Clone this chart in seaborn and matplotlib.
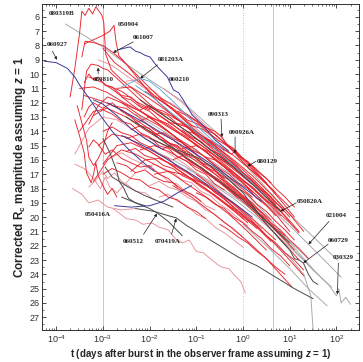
import matplotlib
matplotlib.use("Agg")
import matplotlib.pyplot as plt
from matplotlib.ticker import FixedLocator, LogLocator, MultipleLocator, NullFormatter
import numpy as np
import pandas as pd
import seaborn as sns

sns.set_theme(style="ticks")
plt.rcParams["font.family"] = ["Liberation Sans", "DejaVu Sans"]
plt.rcParams["mathtext.fontset"] = "custom"
plt.rcParams["mathtext.rm"] = "Liberation Sans"
plt.rcParams["mathtext.bf"] = "Liberation Sans:bold"
plt.rcParams["mathtext.it"] = "Liberation Sans:italic:bold"

# ---- afterglow light curves: (log10 t [days], corrected R_c mag) ----
# red: bulk of the sample
lc_080319B = [(-3.7, 11.6), (-3.6, 9.6), (-3.5, 7.2), (-3.45, 5.6), (-3.38, 5.9), (-3.3, 5.4),
              (-3.22, 5.8), (-3.15, 5.3), (-3.08, 5.6), (-3.02, 5.9), (-2.98, 6.4), (-2.94, 8.6),
              (-2.82, 9.7), (-2.6, 10.4), (-2.3, 11.2), (-2.0, 12.1), (-1.6, 13.1), (-1.2, 14.0),
              (-0.8, 15.0), (-0.4, 16.0), (0.0, 17.1), (0.4, 18.3), (0.8, 19.5)]
lc_050904 = [(-3.4, 7.9), (-3.2, 7.6), (-3.0, 7.3), (-2.85, 7.0), (-2.76, 6.6), (-2.72, 7.7),
             (-2.66, 8.7), (-2.5, 9.3), (-2.2, 10.5), (-1.9, 11.7), (-1.5, 12.9), (-1.1, 13.9),
             (-0.7, 15.1), (-0.3, 16.2)]
lc_061007 = [(-3.45, 8.8), (-3.38, 7.7), (-3.2, 7.8), (-3.0, 8.0), (-2.78, 8.5), (-2.5, 9.3),
             (-2.2, 10.3), (-1.8, 11.6), (-1.4, 12.8), (-1.0, 14.0), (-0.5, 15.4), (0.0, 16.9)]
lc_080810 = [(-3.45, 12.5), (-3.35, 9.8), (-3.25, 9.3), (-3.1, 9.4), (-3.0, 9.6), (-2.9, 9.7),
             (-2.6, 10.6), (-2.2, 11.8), (-1.8, 12.9), (-1.3, 14.0), (-0.8, 15.2), (-0.3, 16.4),
             (0.2, 17.7)]
lc_090313 = [(-2.1, 11.2), (-1.8, 11.8), (-1.5, 12.4), (-1.2, 13.2), (-0.9, 13.6), (-0.6, 14.0),
             (-0.45, 14.4), (-0.35, 14.9), (-0.2, 15.3), (0.1, 16.2), (0.5, 17.6)]
lc_090926A = [(-1.5, 13.0), (-1.2, 13.6), (-0.9, 14.3), (-0.6, 14.9), (-0.4, 15.3), (-0.25, 15.6),
              (-0.17, 15.4), (-0.1, 15.8), (0.1, 16.5), (0.4, 17.3), (0.7, 18.3)]
lc_050820A = [(-2.6, 12.0), (-2.2, 12.6), (-1.8, 13.3), (-1.4, 14.1), (-1.0, 14.9), (-0.6, 15.9),
              (-0.2, 16.9), (0.2, 17.9), (0.5, 18.8), (0.8, 19.6), (1.0, 20.3)]
lc_r01 = [(-3.4, 11.5), (-3.0, 11.9), (-2.6, 12.5), (-2.2, 13.4), (-1.8, 14.3), (-1.4, 15.2),
          (-1.0, 16.1), (-0.6, 17.0), (-0.2, 18.0), (0.2, 19.1), (0.6, 20.2)]
lc_r02 = [(-3.3, 13.5), (-3.1, 12.2), (-2.9, 11.6), (-2.6, 12.0), (-2.2, 12.9), (-1.8, 13.6),
          (-1.4, 14.5), (-1.0, 15.3), (-0.6, 16.4), (-0.2, 17.5), (0.2, 18.6)]
lc_r03 = [(-2.9, 10.8), (-2.6, 11.2), (-2.3, 11.9), (-2.0, 12.4), (-1.6, 13.3), (-1.2, 14.3),
          (-0.8, 15.2), (-0.4, 16.3), (0.0, 17.4), (0.4, 18.6), (0.8, 19.9)]
lc_r04 = [(-2.8, 12.2), (-2.5, 12.4), (-2.2, 13.1), (-1.9, 13.9), (-1.5, 14.6), (-1.1, 15.6),
          (-0.7, 16.7), (-0.3, 17.8), (0.1, 19.0), (0.5, 20.3), (0.9, 21.6)]
lc_r05 = [(-3.6, 15.6), (-3.3, 13.8), (-3.0, 13.0), (-2.7, 13.2), (-2.4, 13.8), (-2.0, 14.7),
          (-1.6, 15.5), (-1.2, 16.4), (-0.8, 17.4), (-0.4, 18.5), (0.0, 19.6), (0.4, 20.8)]
lc_r06 = [(-2.5, 14.5), (-2.2, 14.2), (-1.9, 14.6), (-1.5, 15.3), (-1.1, 16.1), (-0.7, 17.0),
          (-0.3, 18.1), (0.1, 19.2), (0.5, 20.5), (0.9, 21.9), (1.2, 23.0)]
lc_r07 = [(-2.0, 12.3), (-1.7, 12.6), (-1.4, 13.2), (-1.0, 14.0), (-0.6, 15.0), (-0.2, 16.1),
          (0.2, 17.3), (0.6, 18.6), (1.0, 20.0)]
lc_r08 = [(-1.8, 11.6), (-1.5, 12.2), (-1.2, 12.8), (-0.8, 13.7), (-0.4, 14.8), (0.0, 16.0),
          (0.4, 17.3), (0.8, 18.8), (1.1, 20.0)]
lc_r09 = [(-3.2, 17.5), (-2.9, 16.0), (-2.6, 15.3), (-2.3, 15.6), (-1.9, 16.3), (-1.5, 17.0),
          (-1.1, 17.9), (-0.7, 18.8), (-0.3, 19.8), (0.1, 21.0), (0.5, 22.3)]
lc_r10 = [(-2.4, 16.8), (-2.1, 16.0), (-1.8, 15.9), (-1.4, 16.5), (-1.0, 17.3), (-0.6, 18.2),
          (-0.2, 19.3), (0.2, 20.4), (0.6, 21.7)]
lc_r11 = [(-1.6, 13.4), (-1.3, 13.5), (-1.0, 14.2), (-0.6, 15.0), (-0.2, 16.0), (0.2, 17.1),
          (0.6, 18.4), (1.0, 19.8), (1.3, 21.0)]
lc_r12 = [(-3.5, 14.0), (-3.2, 12.6), (-2.9, 12.4), (-2.5, 13.0), (-2.1, 13.9), (-1.7, 14.7),
          (-1.3, 15.7), (-0.9, 16.6), (-0.5, 17.6), (-0.1, 18.7)]
lc_r13 = [(-2.7, 11.0), (-2.4, 10.9), (-2.1, 11.5), (-1.7, 12.4), (-1.3, 13.4), (-0.9, 14.4),
          (-0.5, 15.5), (-0.1, 16.6), (0.3, 17.8), (0.7, 19.1)]
lc_r14 = [(-2.2, 15.3), (-1.9, 15.0), (-1.6, 15.4), (-1.2, 16.1), (-0.8, 16.9), (-0.4, 17.8),
          (0.0, 18.8), (0.4, 19.9), (0.8, 21.2), (1.1, 22.3)]
lc_r15 = [(-1.3, 15.2), (-1.0, 15.0), (-0.7, 15.5), (-0.3, 16.3), (0.1, 17.3), (0.5, 18.5),
          (0.9, 19.9), (1.2, 21.0)]
lc_r16 = [(-3.1, 15.0), (-2.8, 14.2), (-2.5, 14.4), (-2.1, 15.2), (-1.7, 16.0), (-1.3, 16.9),
          (-0.9, 17.8), (-0.5, 18.7), (-0.1, 19.7), (0.3, 20.8)]
lc_r17 = [(-2.3, 13.4), (-2.0, 13.0), (-1.7, 13.4), (-1.3, 14.3), (-0.9, 15.2), (-0.5, 16.2),
          (-0.1, 17.3), (0.3, 18.5), (0.7, 19.8), (1.0, 21.0)]
lc_r18 = [(-1.9, 17.0), (-1.6, 16.8), (-1.3, 17.0), (-0.9, 17.6), (-0.5, 18.4), (-0.1, 19.3),
          (0.3, 20.4), (0.7, 21.6)]
lc_r19 = [(-1.2, 14.0), (-0.9, 14.3), (-0.6, 14.8), (-0.2, 15.7), (0.2, 16.8), (0.6, 18.0),
          (1.0, 19.3)]
lc_r20 = [(-3.0, 16.3), (-2.7, 15.0), (-2.4, 14.8), (-2.0, 15.4), (-1.6, 16.2), (-1.2, 17.1),
          (-0.8, 18.0), (-0.4, 19.0), (0.0, 20.1)]
lc_r21 = [(-3.55, 12.2), (-3.45, 13.4), (-3.35, 14.6), (-3.3, 15.8), (-3.2, 16.4), (-3.1, 15.9),
          (-3.0, 15.2), (-2.9, 14.0), (-2.8, 13.4)]
lc_r22 = [(-3.6, 16.3), (-3.4, 16.6), (-3.2, 17.3), (-3.05, 18.0), (-2.95, 17.2), (-2.85, 17.9),
          (-2.7, 18.3), (-2.5, 17.6), (-2.3, 16.9)]
lc_r23 = [(-3.65, 18.0), (-3.45, 18.4), (-3.3, 19.0), (-3.1, 18.8), (-2.9, 19.3), (-2.6, 19.5),
          (-2.3, 19.4)]
lc_r24 = [(-2.78, 19.4), (-2.5, 20.1), (-2.3, 20.2), (-2.14, 20.5), (-1.95, 20.4), (-1.8, 20.7),
          (-1.6, 20.9), (-1.45, 21.5), (-1.3, 21.8), (-1.15, 21.6), (-1.0, 22.4), (-0.85, 22.5),
          (-0.7, 22.9), (-0.55, 23.3), (-0.45, 23.5), (-0.3, 23.6), (-0.2, 24.0), (-0.05, 24.5),
          (0.05, 25.3)]
lc_r25 = [(-1.5, 17.8), (-1.1, 18.6), (-0.7, 19.6), (-0.3, 20.6), (0.1, 21.7), (0.5, 22.9),
          (0.8, 24.0), (1.05, 24.9)]
lc_r26 = [(-1.0, 17.0), (-0.6, 18.0), (-0.2, 19.1), (0.2, 20.3), (0.6, 21.6), (1.0, 23.0),
          (1.3, 24.1)]
lc_r27 = [(-3.3, 10.2), (-3.0, 10.6), (-2.7, 11.3), (-2.4, 12.1), (-2.0, 13.0), (-1.6, 14.0),
          (-1.2, 15.1), (-0.8, 16.2), (-0.4, 17.3)]
lc_r28 = [(-3.5, 11.0), (-3.2, 10.9), (-2.9, 11.3), (-2.6, 11.9), (-2.2, 12.6), (-1.8, 13.5),
          (-1.4, 14.5), (-1.0, 15.6)]
lc_r29 = [(-3.1, 9.0), (-2.8, 9.4), (-2.5, 10.1), (-2.1, 11.0), (-1.7, 12.0), (-1.3, 13.0),
          (-0.9, 14.1), (-0.5, 15.3), (-0.1, 16.5)]
lc_r30 = [(-3.0, 8.2), (-2.9, 8.6), (-2.75, 9.2), (-2.5, 9.8), (-2.2, 10.6), (-1.9, 11.5),
          (-1.5, 12.5), (-1.1, 13.6)]
lc_r31 = [(-3.2, 12.9), (-3.0, 12.5), (-2.8, 12.8), (-2.6, 13.3), (-2.4, 13.5), (-2.2, 14.1),
          (-2.0, 14.4), (-1.8, 15.0), (-1.6, 15.2), (-1.4, 15.8), (-1.2, 16.1), (-1.0, 16.7),
          (-0.8, 17.0), (-0.6, 17.7), (-0.4, 18.1)]
lc_r32 = [(-2.6, 11.6), (-2.4, 11.8), (-2.2, 12.3), (-2.0, 12.6), (-1.8, 13.2), (-1.6, 13.5),
          (-1.4, 14.0), (-1.2, 14.4), (-1.0, 15.0), (-0.8, 15.4), (-0.6, 16.0), (-0.4, 16.5),
          (-0.2, 17.1), (0.0, 17.6), (0.2, 18.3)]
lc_r33 = [(-2.4, 13.9), (-2.2, 13.6), (-2.0, 14.0), (-1.8, 14.3), (-1.6, 14.8), (-1.4, 15.0),
          (-1.2, 15.6), (-1.0, 15.9), (-0.8, 16.5), (-0.6, 16.8), (-0.4, 17.4), (-0.2, 17.9),
          (0.0, 18.5), (0.2, 19.0), (0.4, 19.7)]
lc_r34 = [(-1.9, 14.2), (-1.7, 14.1), (-1.5, 14.5), (-1.3, 14.8), (-1.1, 15.3), (-0.9, 15.6),
          (-0.7, 16.1), (-0.5, 16.6), (-0.3, 17.0), (-0.1, 17.6), (0.1, 18.0), (0.3, 18.7),
          (0.5, 19.2), (0.7, 19.9)]
lc_r35 = [(-2.2, 12.5), (-2.0, 12.2), (-1.8, 12.6), (-1.6, 12.9), (-1.4, 13.5), (-1.2, 13.7),
          (-1.0, 14.3), (-0.8, 14.8), (-0.6, 15.2), (-0.4, 15.8), (-0.2, 16.2), (0.0, 16.9),
          (0.2, 17.4), (0.4, 18.1), (0.6, 18.6)]
lc_r36 = [(-1.5, 16.0), (-1.3, 15.7), (-1.1, 16.2), (-0.9, 16.5), (-0.7, 17.0), (-0.5, 17.4),
          (-0.3, 17.9), (-0.1, 18.5), (0.1, 18.9), (0.3, 19.6), (0.5, 20.1), (0.7, 20.8),
          (0.9, 21.3)]
lc_r37 = [(-2.8, 15.8), (-2.6, 15.5), (-2.4, 15.9), (-2.2, 16.2), (-2.0, 16.6), (-1.8, 16.9),
          (-1.6, 17.5), (-1.4, 17.7), (-1.2, 18.3), (-1.0, 18.6), (-0.8, 19.2), (-0.6, 19.5)]
lc_r38 = [(-1.1, 13.6), (-0.9, 13.8), (-0.7, 14.2), (-0.5, 14.7), (-0.3, 15.1), (-0.1, 15.7),
          (0.1, 16.1), (0.3, 16.8), (0.5, 17.3), (0.7, 18.0), (0.9, 18.6), (1.1, 19.3)]
lc_r39 = [(-0.8, 15.8), (-0.6, 16.0), (-0.4, 16.5), (-0.2, 16.9), (0.0, 17.5), (0.2, 17.9),
          (0.4, 18.6), (0.6, 19.1), (0.8, 19.8), (1.0, 20.4), (1.2, 21.1)]
lc_r40 = [(-3.4, 13.0), (-3.3, 12.3), (-3.2, 12.0), (-3.0, 12.4), (-2.8, 12.0), (-2.6, 12.6),
          (-2.4, 13.0), (-2.2, 13.6), (-2.0, 13.8), (-1.8, 14.5), (-1.6, 14.8), (-1.4, 15.4),
          (-1.2, 15.7)]
lc_r41 = [(-1.7, 15.2), (-1.5, 14.9), (-1.3, 15.3), (-1.1, 15.6), (-0.9, 16.2), (-0.7, 16.4),
          (-0.5, 17.0), (-0.3, 17.4), (-0.1, 18.0), (0.1, 18.4), (0.3, 19.1), (0.5, 19.6),
          (0.7, 20.3), (0.9, 20.9), (1.1, 21.6)]
lc_r42 = [(-2.1, 16.6), (-1.9, 16.3), (-1.7, 16.6), (-1.5, 16.9), (-1.3, 17.4), (-1.1, 17.6),
          (-0.9, 18.2), (-0.7, 18.5), (-0.5, 19.1), (-0.3, 19.5), (-0.1, 20.1), (0.1, 20.6)]
lc_r43 = [(-1.4, 12.6), (-1.2, 12.9), (-1.0, 13.3), (-0.8, 13.9), (-0.6, 14.2), (-0.4, 14.8),
          (-0.2, 15.2), (0.0, 15.9), (0.2, 16.4), (0.4, 17.0), (0.6, 17.6)]
lc_r44 = [(-0.6, 17.4), (-0.4, 17.7), (-0.2, 18.2), (0.0, 18.6), (0.2, 19.2), (0.4, 19.7),
          (0.6, 20.4), (0.8, 20.9), (1.0, 21.6), (1.2, 22.2), (1.4, 22.9)]
lc_r45 = [(-2.5, 10.5), (-2.3, 10.4), (-2.1, 10.9), (-1.9, 11.2), (-1.7, 11.8), (-1.5, 12.1),
          (-1.3, 12.7), (-1.1, 13.2), (-0.9, 13.7), (-0.7, 14.3), (-0.5, 14.7)]
lc_r46 = [(-3.0, 14.0), (-2.8, 13.7), (-2.6, 14.1), (-2.4, 14.3), (-2.2, 14.8), (-2.0, 15.1),
          (-1.8, 15.6), (-1.6, 15.9), (-1.4, 16.5), (-1.2, 16.8), (-1.0, 17.4), (-0.8, 17.7),
          (-0.6, 18.3), (-0.4, 18.7), (-0.2, 19.3)]
lc_r47 = [(-0.3, 19.2), (-0.1, 19.6), (0.1, 20.2), (0.3, 20.6), (0.5, 21.3), (0.7, 21.8),
          (0.9, 22.5), (1.1, 23.0), (1.3, 23.7)]
lc_r48 = [(-1.0, 18.3), (-0.8, 18.6), (-0.6, 19.1), (-0.4, 19.4), (-0.2, 20.0), (0.0, 20.4),
          (0.2, 21.0), (0.4, 21.5), (0.6, 22.2), (0.8, 22.7), (1.0, 23.4)]
lc_r49 = [(-2.0, 17.8), (-1.8, 17.5), (-1.6, 17.9), (-1.4, 18.1), (-1.2, 18.6), (-1.0, 18.9),
          (-0.8, 19.5), (-0.6, 19.8), (-0.4, 20.4), (-0.2, 20.8), (0.0, 21.4)]
lc_r50 = [(-1.3, 13.9), (-1.1, 14.4), (-0.9, 14.7), (-0.7, 15.3), (-0.5, 15.6), (-0.3, 16.2),
          (-0.1, 16.7), (0.1, 17.2), (0.3, 17.8), (0.5, 18.3), (0.7, 19.0), (0.9, 19.5)]
lc_r51 = [(-3.0, 17.0), (-2.8, 16.6), (-2.6, 16.9), (-2.4, 17.3), (-2.2, 17.4), (-2.0, 17.9),
          (-1.8, 18.1), (-1.6, 18.6), (-1.4, 18.8), (-1.2, 19.3), (-1.0, 19.6), (-0.8, 20.1)]
lc_r52 = [(-2.7, 16.2), (-2.5, 16.4), (-2.3, 16.9), (-2.1, 16.7), (-1.9, 17.2), (-1.7, 17.5),
          (-1.5, 17.6), (-1.3, 18.1), (-1.1, 18.4), (-0.9, 18.9)]
lc_r53 = [(-3.3, 15.1), (-3.2, 14.6), (-3.1, 14.9), (-2.95, 15.6), (-2.8, 15.3), (-2.6, 15.9),
          (-2.4, 16.2), (-2.2, 16.5), (-2.0, 16.4), (-1.8, 17.0), (-1.6, 17.3), (-1.4, 17.9)]
lc_r54 = [(-3.6, 13.2), (-3.5, 14.3), (-3.4, 15.5), (-3.35, 16.9), (-3.25, 17.6), (-3.2, 17.0),
          (-3.15, 16.2), (-3.1, 17.1), (-3.0, 17.8), (-2.9, 18.4), (-2.8, 18.0), (-2.7, 18.6)]
lc_r55 = [(-3.3, 17.9), (-3.15, 17.4), (-3.0, 16.8), (-2.9, 17.3), (-2.75, 16.9), (-2.6, 17.5),
          (-2.45, 17.8), (-2.3, 18.2), (-2.1, 18.3), (-1.9, 18.8)]
lc_r57 = [(-2.5, 15.4), (-2.3, 15.2), (-2.1, 15.7), (-1.9, 15.9), (-1.7, 16.4), (-1.5, 16.6),
          (-1.3, 17.1), (-1.1, 17.4), (-0.9, 17.9), (-0.7, 18.3), (-0.5, 18.8), (-0.3, 19.3),
          (-0.1, 19.8), (0.1, 20.4)]
lc_r58 = [(-1.8, 18.6), (-1.6, 18.4), (-1.4, 18.9), (-1.2, 19.2), (-1.0, 19.8), (-0.8, 20.1),
          (-0.6, 20.7), (-0.4, 21.1), (-0.2, 21.6), (0.0, 22.1)]
lc_r59 = [(-0.5, 20.5), (-0.3, 20.9), (-0.1, 21.4), (0.1, 21.8), (0.3, 22.4), (0.5, 22.9),
          (0.7, 23.5), (0.9, 24.0)]
lc_r60 = [(-3.4, 10.6), (-3.3, 10.0), (-3.2, 10.4), (-3.1, 10.2), (-2.95, 10.8), (-2.8, 10.9),
          (-2.6, 11.5), (-2.4, 11.6), (-2.2, 12.2), (-2.0, 12.5)]

# blue and dark grey-blue curves
lc_081203A = [(-2.67, 8.3), (-2.55, 8.2), (-2.42, 8.1), (-2.3, 8.4), (-2.2, 8.5), (-2.09, 8.7),
              (-1.99, 8.8), (-1.88, 9.3), (-1.77, 9.7), (-1.62, 10.2), (-1.49, 11.1),
              (-1.38, 11.3), (-1.28, 11.8), (-1.09, 12.85), (-0.85, 13.6), (-0.6, 14.6),
              (-0.3, 15.4)]
lc_060210 = [(-2.6, 10.9), (-2.4, 10.6), (-2.2, 10.3), (-2.0, 10.5), (-1.8, 11.0), (-1.5, 11.9),
             (-1.2, 12.9), (-0.8, 14.2), (-0.4, 15.4)]
lc_060927 = [(-4.25, 9.1), (-4.0, 9.2), (-3.76, 9.6), (-3.6, 10.2), (-3.49, 10.8), (-3.27, 11.8),
             (-3.05, 12.9), (-2.8, 14.0), (-2.5, 15.1), (-2.2, 16.0), (-1.9, 16.8)]
lc_b01 = [(-2.75, 19.2), (-2.4, 19.3), (-2.0, 19.2), (-1.7, 18.9), (-1.4, 18.3), (-1.1, 17.8)]
lc_b02 = [(-2.9, 12.0), (-2.5, 12.7), (-2.0, 13.6), (-1.5, 14.6), (-1.0, 15.6), (-0.5, 16.7),
          (0.0, 17.9), (0.4, 18.9)]
lc_b03 = [(-2.6, 14.3), (-2.2, 14.9), (-1.8, 15.6), (-1.4, 16.4), (-1.0, 17.2), (-0.6, 18.1),
          (-0.2, 19.0), (0.2, 20.0)]
lc_b04 = [(-3.2, 11.8), (-3.0, 12.1), (-2.7, 12.9), (-2.4, 13.8), (-2.1, 14.5), (-1.7, 15.3)]

# dark grey curves
lc_070419A = [(-2.3, 19.4), (-1.9, 19.6), (-1.6, 19.9), (-1.43, 20.05), (-1.2, 20.6), (-0.9, 21.2),
              (-0.5, 22.0), (-0.1, 22.8), (0.3, 23.4), (0.7, 24.2), (1.1, 25.0), (1.5, 25.7)]
lc_060512 = [(-2.6, 18.6), (-2.3, 19.0), (-2.0, 19.4), (-1.84, 19.7), (-1.6, 20.3), (-1.45, 20.8),
             (-1.3, 21.3)]
lc_050416A = [(-3.0, 14.5), (-2.85, 15.5), (-2.7, 16.8), (-2.65, 17.5), (-2.55, 18.0),
              (-2.45, 18.7), (-2.3, 19.0), (-2.1, 19.2)]
lc_060729 = [(-2.0, 14.5), (-1.5, 15.2), (-1.0, 15.8), (-0.5, 16.8), (0.0, 18.3), (0.48, 20.4),
             (0.8, 21.6), (1.0, 22.3), (1.1, 22.9), (1.2, 23.0), (1.29, 23.2), (1.4, 24.0),
             (1.5, 24.5), (1.6, 24.7)]
lc_d01 = [(-2.5, 13.0), (-2.0, 14.0), (-1.5, 15.2), (-1.0, 16.3), (-0.5, 17.5), (0.0, 18.8),
          (0.5, 20.3), (1.0, 21.8)]
lc_d02 = [(-2.2, 11.8), (-1.7, 12.9), (-1.2, 14.0), (-0.7, 15.3), (-0.2, 16.5), (0.3, 18.0),
          (0.8, 19.6)]
lc_d03 = [(-2.95, 16.5), (-2.8, 17.2), (-2.6, 17.6), (-2.4, 18.0), (-2.1, 18.5), (-1.8, 18.9),
          (-1.5, 19.3)]

# light grey curves (late-time coverage)
lc_080129 = [(-3.8, 6.5), (-3.4, 7.3), (-3.0, 8.1), (-2.5, 9.3), (-2.0, 10.4), (-1.34, 11.8),
             (-0.5, 14.3), (0.09, 16.5), (1.0, 19.8), (2.02, 23.0)]
lc_021004 = [(-2.3, 12.8), (-1.8, 13.8), (-1.3, 14.8), (-0.8, 15.8), (-0.3, 16.9), (0.2, 18.2),
             (0.6, 19.4), (1.0, 20.6), (1.4, 21.9), (1.8, 23.2), (2.1, 24.2)]
lc_030329 = [(-1.3, 15.6), (-0.8, 16.3), (-0.3, 17.3), (0.1, 18.5), (0.5, 19.8), (0.9, 21.4),
             (1.3, 22.9), (1.6, 24.0), (1.85, 24.8), (2.0, 25.5), (2.05, 25.0), (2.1, 26.0),
             (2.2, 25.6), (2.3, 26.1)]
lc_g01 = [(-0.5, 18.5), (0.0, 19.8), (0.5, 21.3), (1.0, 22.8), (1.3, 24.0), (1.45, 25.5),
          (1.5, 27.9)]
lc_g02 = [(0.0, 20.5), (0.5, 22.0), (1.0, 23.6), (1.4, 25.0), (1.8, 26.2)]
lc_g03 = [(-0.5, 17.0), (0.0, 18.6), (0.5, 20.3), (1.0, 22.0), (1.5, 23.7), (1.9, 24.9)]
lc_g04 = [(-2.0, 15.2), (-1.5, 16.0), (-1.0, 16.9), (-0.5, 17.9), (0.0, 19.0), (0.5, 20.3),
          (1.0, 21.7), (1.4, 22.9)]
lc_g05 = [(-1.2, 16.6), (-0.7, 17.6), (-0.2, 18.7), (0.3, 20.0), (0.8, 21.5), (1.2, 22.7),
          (1.6, 24.0)]
lc_p01 = [(-1.7, 11.0), (-1.3, 12.0), (-0.9, 13.3), (-0.5, 14.5), (-0.1, 15.8)]
lc_c01 = [(-2.3, 10.8), (-1.9, 11.7), (-1.5, 12.8), (-1.1, 13.8), (-0.7, 14.9), (-0.3, 16.1),
          (0.1, 17.3), (0.5, 18.6)]

groups = [
    ("light", "#aaaaaa", 0.7, [lc_080129, lc_021004, lc_030329, lc_g01, lc_g02, lc_g03, lc_g04, lc_g05]),
    ("pink", "#eb8f98", 0.65, [lc_p01, lc_r24, lc_r29, lc_r22, lc_r23, lc_r37, lc_r42, lc_r49,
                               lc_r05, lc_r45, lc_r55, lc_r58]),
    ("red", "#e6222c", 0.65, [lc_080319B, lc_050904, lc_061007, lc_080810, lc_090313, lc_090926A,
                              lc_050820A, lc_r01, lc_r02, lc_r03, lc_r04, lc_r06, lc_r07,
                              lc_r08, lc_r09, lc_r10, lc_r11, lc_r12, lc_r13, lc_r14, lc_r15,
                              lc_r16, lc_r17, lc_r18, lc_r19, lc_r20, lc_r21,
                              lc_r25, lc_r26, lc_r27, lc_r28, lc_r30, lc_r31, lc_r32,
                              lc_r33, lc_r34, lc_r35, lc_r36, lc_r38, lc_r39, lc_r40, lc_r41,
                              lc_r43, lc_r44, lc_r46, lc_r47, lc_r48, lc_r50, lc_r51, lc_r52,
                              lc_r53, lc_r54, lc_r57, lc_r59, lc_r60]),
    ("cyan", "#5aa8d8", 0.65, [lc_c01, lc_060210]),
    ("dark", "#4a4a4a", 0.7, [lc_070419A, lc_060512, lc_050416A, lc_060729, lc_d01, lc_d02,
                              lc_d03]),
    ("blue", "#3a3a98", 0.7, [lc_081203A, lc_060927, lc_b01, lc_b02, lc_b03, lc_b04]),
]

# annotations: label, text anchor (log t, mag), arrow tail and tip (log t, mag)
labels = ["080319B", "050904", "061007", "060927", "080810", "081203A", "060210", "090313",
          "090926A", "080129", "050820A", "021004", "060729", "030329", "050416A", "060512",
          "070419A"]
label_pos = [(-4.15, 5.8), (-2.69, 6.5), (-2.37, 7.45), (-4.21, 7.95), (-3.21, 10.4),
             (-1.82, 9.0), (-1.6, 10.4), (-0.75, 12.85), (-0.3, 14.05), (0.3, 16.1),
             (1.16, 18.9), (1.76, 19.9), (1.82, 21.6), (1.91, 22.85), (-3.38, 19.8),
             (-2.57, 21.7), (-1.88, 21.7)]
arrow_tail = [None, None, (-2.35, 7.75), (-4.08, 8.4), (-3.1, 10.0), (-1.83, 9.35), None,
              (-0.47, 13.15), (-0.17, 14.4), (0.28, 16.1), (1.14, 19.0), (1.84, 20.3),
              (1.82, 21.9), (2.04, 23.2), None, (-2.13, 21.2), (-1.53, 21.2)]
arrow_tip = [None, None, (-2.78, 8.5), (-3.98, 9.0), (-3.1, 9.55), (-2.2, 10.3), None,
             (-0.45, 14.4), (-0.17, 15.55), (0.09, 16.45), (0.8, 19.6), (1.4, 21.9),
             (1.29, 23.2), (2.02, 25.4), None, (-1.84, 19.75), (-1.43, 20.1)]

# ---- long-form table ----
rows = []
for gname, col, lw, curves in groups:
    for k, pts in enumerate(curves):
        for lg, mag in pts:
            rows.append((gname, f"{gname}{k}", 10.0 ** lg, mag))
df = pd.DataFrame(rows, columns=["group", "curve", "t", "mag"])

fig = plt.figure(figsize=(3.63, 3.62), dpi=100)
ax = fig.add_axes([0.116, 0.088, 0.874, 0.901])

# reference epochs
for lg, ls in [(-3.0, "-"), (0.0, ":"), (0.65, "-")]:
    ax.axvline(10.0 ** lg, color="#c8c8c8", lw=0.7, ls=ls, zorder=0)

for gname, col, lw, curves in groups:
    sub = df[df["group"] == gname]
    sns.lineplot(data=sub, x="t", y="mag", units="curve", estimator=None, sort=False,
                 color=col, lw=lw, ax=ax, legend=False)

for name, pos, tail, tip in zip(labels, label_pos, arrow_tail, arrow_tip):
    ax.text(10.0 ** pos[0], pos[1], name, fontsize=5, fontweight="bold",
            family="Liberation Serif", ha="left", va="center", color="#202020")
    if tip is not None:
        ax.annotate("", xy=(10.0 ** tip[0], tip[1]), xytext=(10.0 ** tail[0], tail[1]),
                    arrowprops=dict(arrowstyle="-|>", color="#202020", lw=0.5,
                                    mutation_scale=4, shrinkA=0, shrinkB=0))

ax.set_xscale("log")
ax.set_xlim(10 ** -4.30, 10 ** 2.49)
ax.set_ylim(27.9, 5.1)
ax.xaxis.set_major_locator(FixedLocator([1e-4, 1e-3, 1e-2, 1e-1, 1e0, 1e1, 1e2]))
ax.xaxis.set_minor_locator(LogLocator(base=10, subs=np.arange(2, 10), numticks=20))
ax.xaxis.set_minor_formatter(NullFormatter())
ax.yaxis.set_major_locator(MultipleLocator(1))
ax.yaxis.set_minor_locator(MultipleLocator(0.5))
ax.tick_params(which="both", direction="in", top=True, right=True, labelsize=6.5,
               colors="#303030", pad=2)
ax.tick_params(which="major", length=3, width=0.6)
ax.tick_params(which="minor", length=1.6, width=0.5)
for s in ax.spines.values():
    s.set_linewidth(0.7)
    s.set_color("#303030")

ax.set_xlabel(r"t (days after burst in the observer frame assuming $\mathit{z}$ = 1)",
              fontsize=7.0, fontweight="bold", labelpad=2)
ax.set_ylabel(r"Corrected R$_{\mathbf{c}}$ magnitude assuming $\mathit{z}$ = 1",
              fontsize=8.4, fontweight="bold", labelpad=1)

fig.savefig("out.png", dpi=100)
